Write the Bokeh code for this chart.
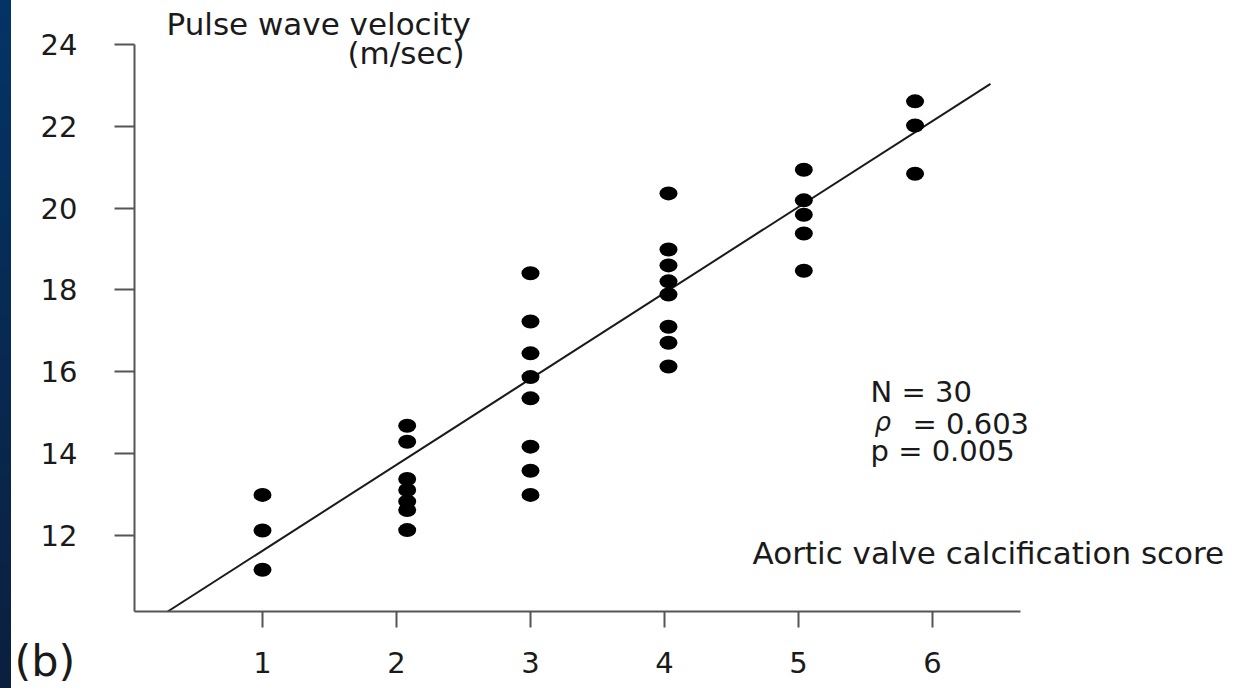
from bokeh.plotting import figure
from bokeh.models import Range1d, FixedTicker, Label, Div, ColumnDataSource, LinearAxis
from bokeh.layouts import row
from bokeh.embed import file_html
from bokeh.resources import INLINE

# ---------------- data ----------------
score = [1.0, 1.0, 1.0,
         2.08, 2.08, 2.08, 2.08, 2.08, 2.08, 2.08,
         3.0, 3.0, 3.0, 3.0, 3.0, 3.0, 3.0, 3.0,
         4.03, 4.03, 4.03, 4.03, 4.03, 4.03, 4.03, 4.03,
         5.04, 5.04, 5.04, 5.04, 5.04,
         5.87, 5.87, 5.87]
pwv = [12.99, 12.12, 11.16,
       14.68, 14.29, 13.38, 13.11, 12.83, 12.62, 12.13,
       18.41, 17.23, 16.45, 15.87, 15.35, 14.17, 13.58, 12.99,
       20.36, 18.99, 18.60, 18.21, 17.89, 17.10, 16.71, 16.13,
       20.94, 20.19, 19.84, 19.38, 18.47,
       22.61, 22.02, 20.84]
fit_intercept = 9.524
fit_slope = 2.101
fit_x = [0.293, 6.433]
fit_y = [fit_intercept + fit_slope * v for v in fit_x]

x_ticks = [1, 2, 3, 4, 5, 6]
y_ticks = [12, 14, 16, 18, 20, 22, 24]

y_title = ["Pulse wave velocity", "(m/sec)"]
x_title = "Aortic valve calcification score"
stat_n = "N = 30"
stat_rho_sym = "\u03c1"
stat_rho_val = "= 0.603"
stat_p = "p = 0.005"
panel_tag = "(b)"

# ---------------- layout ----------------
W, H = 1240, 688
X0, X1 = 0.0448, 6.657      # extent of the drawn x axis
Y0, Y1 = 10.14, 24.0        # extent of the drawn y axis
FL, FR, FT, FB = 134, 1020, 44, 611  # axis extents in page pixels
STRIP = 11
DY = 10                      # label baseline correction (px)

sx = (X1 - X0) / (FR - FL)
sy = (Y1 - Y0) / (FB - FT)

def px2x(px):
    return X0 + (px - FL) * sx

def px2y(py):
    return Y1 - (py - FT) * sy

FONT = "DejaVu Sans"
FS = "29px"
FS_T = "31px"

# the frame covers the whole canvas; the axes sit at fixed locations in it
p = figure(width=W - STRIP, height=H,
           x_range=Range1d(px2x(STRIP), px2x(W)),
           y_range=Range1d(px2y(H), px2y(0)),
           x_axis_location=None, y_axis_location=None,
           output_backend="svg", toolbar_location=None,
           min_border=0)
p.background_fill_color = "white"
p.border_fill_color = "white"
p.outline_line_color = None
p.grid.visible = False

xaxis = LinearAxis(fixed_location=Y0, bounds=(X0, X1),
                   ticker=FixedTicker(ticks=x_ticks))
yaxis = LinearAxis(fixed_location=X0, bounds=(Y0, Y1),
                   ticker=FixedTicker(ticks=y_ticks))
p.add_layout(xaxis, "below")
p.add_layout(yaxis, "left")

for ax in (xaxis, yaxis):
    ax.axis_line_color = "#555555"
    ax.axis_line_width = 2
    ax.major_tick_line_color = "#555555"
    ax.major_tick_line_width = 2
    ax.major_tick_in = 0
    ax.minor_tick_line_color = None
    ax.major_label_text_font = FONT
    ax.major_label_text_font_size = FS
    ax.major_label_text_color = "#1a1a1a"

xaxis.major_tick_out = 16
yaxis.major_tick_out = 20
xaxis.major_label_standoff = 24
yaxis.major_label_standoff = 37

src = ColumnDataSource(dict(x=score, y=pwv))
p.line(fit_x, fit_y, line_color="#1a1a1a", line_width=2)
p.ellipse(x="x", y="y", width=18, height=14, width_units="screen",
          height_units="screen", source=src, fill_color="black",
          line_color=None)

def add_label(text, px, py, size=FS, style="normal"):
    p.add_layout(Label(x=px2x(px), y=px2y(py - DY), text=text,
                       text_font=FONT, text_font_size=size,
                       text_font_style=style, text_color="#1a1a1a",
                       text_align="left", text_baseline="alphabetic"))

add_label(y_title[0], 166, 33, size=FS_T)
add_label(y_title[1], 347, 62, size=FS_T)
add_label(x_title, 752, 562, size=FS_T)
add_label(stat_n, 870, 401)
add_label(stat_rho_sym, 874, 431, size="26px", style="italic")
add_label(stat_rho_val, 912, 433)
add_label(stat_p, 870, 460)
add_label(panel_tag, STRIP + 3, 670, size="43px")

strip = Div(text="", width=STRIP, height=H, margin=(0, 0, 0, 0),
            styles={"background": "linear-gradient(to bottom, #033466, #0b1f3e)"})

layout = row(strip, p, spacing=0, margin=(0, 0, 0, 0))
open("out.html", "w").write(file_html(layout, INLINE))
